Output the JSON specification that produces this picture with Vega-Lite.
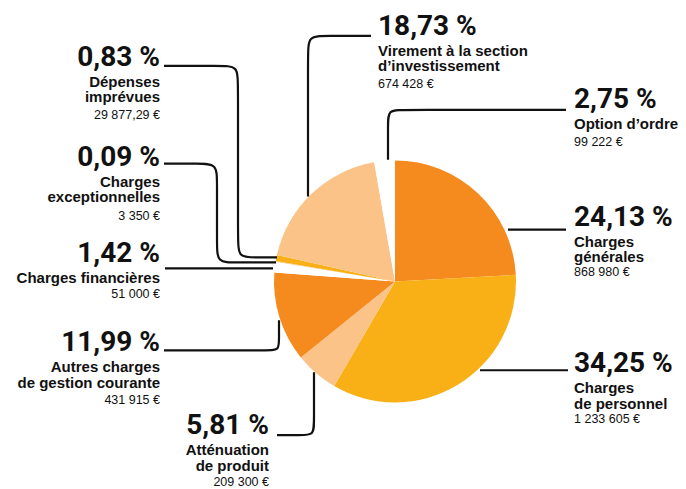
{
  "$schema": "https://vega.github.io/schema/vega-lite/v6.json",
  "width": 686,
  "height": 489,
  "autosize": {"type": "fit", "contains": "padding"},
  "padding": 0,
  "background": "white",
  "config": {
    "view": {"stroke": null},
    "locale": {
      "number": {
        "decimal": ",",
        "thousands": "\u00a0",
        "grouping": [3],
        "currency": ["", "\u00a0€"],
        "percent": "\u00a0%"
      }
    }
  },
  "datasets": {
    "postes": [
      {"rang": 1, "poste": "Charges générales", "libelle": "Charges\ngénérales", "part": 0.2413, "montant": 868980, "cote": "D", "tx": 574, "ty": 226, "ay": 277},
      {"rang": 2, "poste": "Charges de personnel", "libelle": "Charges\nde personnel", "part": 0.3425, "montant": 1233605, "cote": "D", "tx": 574, "ty": 373, "ay": 424},
      {"rang": 3, "poste": "Atténuation de produit", "libelle": "Atténuation\nde produit", "part": 0.0581, "montant": 209300, "cote": "G", "tx": 269, "ty": 435, "ay": 487},
      {"rang": 4, "poste": "Autres charges de gestion courante", "libelle": "Autres charges\nde gestion courante", "part": 0.1199, "montant": 431915, "cote": "G", "tx": 160, "ty": 352, "ay": 405},
      {"rang": 5, "poste": "Charges financières", "libelle": "Charges financières", "part": 0.0142, "montant": 51000, "cote": "G", "tx": 160, "ty": 263, "ay": 299},
      {"rang": 6, "poste": "Charges exceptionnelles", "libelle": "Charges\nexceptionnelles", "part": 0.0009, "montant": 3350, "cote": "G", "tx": 160, "ty": 166, "ay": 220},
      {"rang": 7, "poste": "Dépenses imprévues", "libelle": "Dépenses\nimprévues", "part": 0.0083, "montant": 29877.29, "cote": "G", "tx": 160, "ty": 66, "ay": 119},
      {"rang": 8, "poste": "Virement à la section d’investissement", "libelle": "Virement à la section\nd’investissement", "part": 0.1873, "montant": 674428, "cote": "D", "tx": 378, "ty": 35, "ay": 88},
      {"rang": 9, "poste": "Option d’ordre", "libelle": "Option d’ordre", "part": 0.0275, "montant": 99222, "cote": "D", "tx": 574, "ty": 108, "ay": 146}
    ],
    "reperes": [
      {"id": 1, "k": 1, "x": 164, "y": 66}, {"id": 1, "k": 2, "x": 220, "y": 66}, {"id": 1, "k": 3, "x": 238, "y": 66}, {"id": 1, "k": 4, "x": 238, "y": 84}, {"id": 1, "k": 5, "x": 238, "y": 240}, {"id": 1, "k": 6, "x": 238, "y": 258}, {"id": 1, "k": 7, "x": 256, "y": 258}, {"id": 1, "k": 8, "x": 277, "y": 258},
      {"id": 2, "k": 1, "x": 164, "y": 164}, {"id": 2, "k": 2, "x": 199, "y": 164}, {"id": 2, "k": 3, "x": 217, "y": 164}, {"id": 2, "k": 4, "x": 217, "y": 182}, {"id": 2, "k": 5, "x": 217, "y": 245}, {"id": 2, "k": 6, "x": 217, "y": 263}, {"id": 2, "k": 7, "x": 235, "y": 263}, {"id": 2, "k": 8, "x": 276, "y": 263},
      {"id": 3, "k": 1, "x": 165, "y": 269}, {"id": 3, "k": 2, "x": 273, "y": 269},
      {"id": 4, "k": 1, "x": 164, "y": 351}, {"id": 4, "k": 2, "x": 268, "y": 351}, {"id": 4, "k": 3, "x": 279, "y": 351}, {"id": 4, "k": 4, "x": 279, "y": 340}, {"id": 4, "k": 5, "x": 279, "y": 321},
      {"id": 5, "k": 1, "x": 314, "y": 373}, {"id": 5, "k": 2, "x": 314, "y": 423}, {"id": 5, "k": 3, "x": 314, "y": 436}, {"id": 5, "k": 4, "x": 301, "y": 436}, {"id": 5, "k": 5, "x": 277, "y": 436},
      {"id": 6, "k": 1, "x": 308, "y": 197}, {"id": 6, "k": 2, "x": 308, "y": 54}, {"id": 6, "k": 3, "x": 308, "y": 36}, {"id": 6, "k": 4, "x": 326, "y": 36}, {"id": 6, "k": 5, "x": 371, "y": 36},
      {"id": 7, "k": 1, "x": 566, "y": 110}, {"id": 7, "k": 2, "x": 403, "y": 110}, {"id": 7, "k": 3, "x": 388, "y": 110}, {"id": 7, "k": 4, "x": 388, "y": 125}, {"id": 7, "k": 5, "x": 388, "y": 160},
      {"id": 8, "k": 1, "x": 508, "y": 230}, {"id": 8, "k": 2, "x": 566, "y": 230},
      {"id": 9, "k": 1, "x": 480, "y": 371}, {"id": 9, "k": 2, "x": 568, "y": 371}
    ]
  },
  "layer": [
    {
      "data": {"name": "postes"},
      "mark": {"type": "arc", "outerRadius": 121},
      "encoding": {
        "theta": {"field": "part", "type": "quantitative", "stack": true},
        "order": {"field": "rang", "type": "quantitative"},
        "color": {
          "field": "poste",
          "type": "nominal",
          "legend": null,
          "scale": {
            "domain": ["Charges générales", "Charges de personnel", "Atténuation de produit", "Autres charges de gestion courante", "Charges financières", "Charges exceptionnelles", "Dépenses imprévues", "Virement à la section d’investissement", "Option d’ordre"],
            "range": ["#F58A1F", "#F9B016", "#FBC388", "#F58A1F", "#FFFFFF", "#FBC388", "#F9B016", "#FBC388", "#FFFFFF"]
          }
        },
        "x": {"datum": 395, "type": "quantitative", "scale": {"domain": [0, 686], "nice": false, "zero": false}, "axis": null},
        "y": {"datum": 282, "type": "quantitative", "scale": {"domain": [0, 489], "nice": false, "zero": false, "reverse": true}, "axis": null}
      }
    },
    {
      "data": {"name": "reperes"},
      "mark": {"type": "line", "interpolate": "basis", "color": "#111111", "strokeWidth": 2.2, "strokeCap": "butt"},
      "encoding": {
        "x": {"field": "x", "type": "quantitative"},
        "y": {"field": "y", "type": "quantitative"},
        "detail": {"field": "id", "type": "nominal"},
        "order": {"field": "k", "type": "quantitative"}
      }
    },
    {
      "data": {"name": "postes"},
      "transform": [{"filter": "datum.cote == 'G'"}],
      "layer": [
        {
          "mark": {"type": "text", "align": "right", "baseline": "alphabetic", "font": "Roboto", "fontWeight": "bold", "fontSize": 28, "color": "#111111"},
          "encoding": {
            "x": {"field": "tx", "type": "quantitative"},
            "y": {"field": "ty", "type": "quantitative"},
            "text": {"field": "part", "type": "quantitative", "format": ".2%"}
          }
        },
        {
          "mark": {"type": "text", "align": "right", "baseline": "alphabetic", "font": "Liberation Sans", "fontWeight": "bold", "fontSize": 15, "lineBreak": "\n", "lineHeight": 15.5, "dy": 21, "color": "#111111"},
          "encoding": {
            "x": {"field": "tx", "type": "quantitative"},
            "y": {"field": "ty", "type": "quantitative"},
            "text": {"field": "libelle", "type": "nominal"}
          }
        },
        {
          "mark": {"type": "text", "align": "right", "baseline": "alphabetic", "font": "Liberation Sans", "fontSize": 12.5, "color": "#111111"},
          "encoding": {
            "x": {"field": "tx", "type": "quantitative"},
            "y": {"field": "ay", "type": "quantitative"},
            "text": {"field": "montant", "type": "quantitative", "format": "$,.2~f"}
          }
        }
      ]
    },
    {
      "data": {"name": "postes"},
      "transform": [{"filter": "datum.cote == 'D'"}],
      "layer": [
        {
          "mark": {"type": "text", "align": "left", "baseline": "alphabetic", "font": "Roboto", "fontWeight": "bold", "fontSize": 28, "color": "#111111"},
          "encoding": {
            "x": {"field": "tx", "type": "quantitative"},
            "y": {"field": "ty", "type": "quantitative"},
            "text": {"field": "part", "type": "quantitative", "format": ".2%"}
          }
        },
        {
          "mark": {"type": "text", "align": "left", "baseline": "alphabetic", "font": "Liberation Sans", "fontWeight": "bold", "fontSize": 15, "lineBreak": "\n", "lineHeight": 15.5, "dy": 21, "color": "#111111"},
          "encoding": {
            "x": {"field": "tx", "type": "quantitative"},
            "y": {"field": "ty", "type": "quantitative"},
            "text": {"field": "libelle", "type": "nominal"}
          }
        },
        {
          "mark": {"type": "text", "align": "left", "baseline": "alphabetic", "font": "Liberation Sans", "fontSize": 12.5, "color": "#111111"},
          "encoding": {
            "x": {"field": "tx", "type": "quantitative"},
            "y": {"field": "ay", "type": "quantitative"},
            "text": {"field": "montant", "type": "quantitative", "format": "$,.2~f"}
          }
        }
      ]
    }
  ]
}
